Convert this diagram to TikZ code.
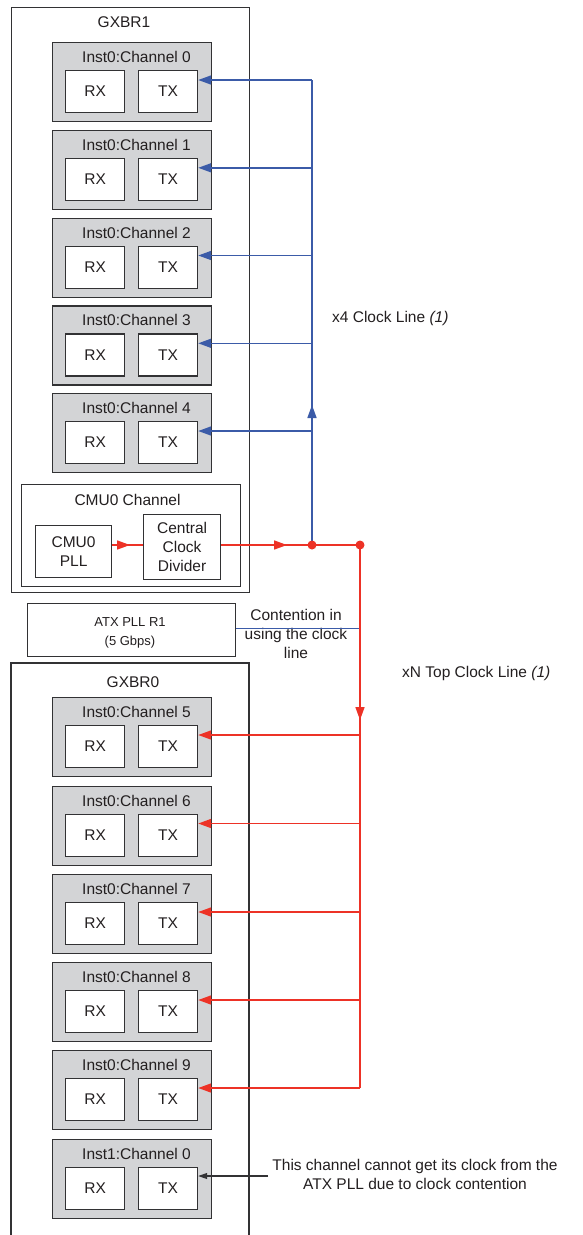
\documentclass[tikz,border=0pt]{standalone}
\usepackage{fontspec}
\setmainfont{Liberation Sans}
\usetikzlibrary{arrows.meta}
\definecolor{chgray}{RGB}{211,212,214}
\definecolor{ln}{RGB}{50,50,52}
\definecolor{txt}{RGB}{35,31,32}
\definecolor{bl}{RGB}{59,91,168}
\definecolor{rd}{RGB}{237,50,38}
\begin{document}
\begin{tikzpicture}[x=1pt,y=-1pt,font=\fontsize{15.5}{19}\selectfont,text=txt,
  outerbox/.style={draw=ln,line width=1.1pt,anchor=north west,inner sep=0pt},
  chan/.style={draw=ln,fill=chgray,line width=1.3pt,anchor=north west,inner sep=0pt,minimum width=159pt,minimum height=79pt},
  sub/.style={draw=ln,fill=white,line width=1.2pt,anchor=north west,inner sep=0pt,minimum width=59pt,minimum height=42pt},
  lbl/.style={inner sep=0pt},
  bline/.style={draw=bl,line width=1.6pt},
  rline/.style={draw=rd,line width=1.6pt},
  tipb/.style={-{Triangle[length=13pt,width=9pt]}},
  dot/.style={circle,fill=rd,inner sep=0pt,minimum size=9pt}]
\useasboundingbox[fill=white] (0,0) rectangle (582,1235);

% GXBR1
\node[outerbox,minimum width=238pt,minimum height=585pt] (gx1) at (11,7) {};
\node[lbl] (gx1l) at (124,22) {GXBR1};
\foreach \i/\t in {0/42,1/129.8,2/217.5,3/305.3,4/393}{
  \node[chan] (c\i) at (52,\t) {};
  \node[lbl] (cl\i) at (136.5,\t+15) {Inst0:Channel \i};
  \node[sub] (rx\i) at (65,\t+28) {RX};
  \node[sub] (tx\i) at (138,\t+28) {TX};
  \coordinate (bp\i) at (312,\t+38);
  \draw[bline,tipb] (bp\i) -- (tx\i.east |- bp\i);
}
% CMU0
\node[outerbox,minimum width=219pt,minimum height=102pt] (cmu) at (21,484) {};
\node[lbl] (cmul) at (127.5,500) {CMU0 Channel};
\node[draw=ln,line width=1.2pt,anchor=north west,minimum width=76pt,minimum height=52pt,inner sep=0pt,align=center] (pll) at (35,525) {CMU0\\PLL};
\node[draw=ln,line width=1.2pt,anchor=north west,minimum width=77pt,minimum height=65pt,inner sep=0pt,align=center] (div) at (143,514) {Central\\Clock\\Divider};

\coordinate (j1) at (312,545);
\coordinate (j2) at (360,545);
% blue bus
\draw[bline] (j1) -- (bp0);
\draw[bline,tipb] (j1) -- (312,405);
% red
\coordinate (pa) at (pll.east |- j1);
\draw[rline,tipb] (pa) -- (130,545);
\draw[rline] (128,545) -- (div.west |- j1);
\draw[rline,tipb] (div.east |- j1) -- (287,545);
\draw[rline] (285,545) -- (j2);

% ATX
\node[outerbox,minimum width=208pt,minimum height=53pt] (atx) at (27,603) {};
\node[lbl,font=\fontsize{13}{19}\selectfont,align=center] (atxl) at (130,632.5) {ATX PLL R1\\(5 Gbps)};
\node[lbl,align=center,font=\fontsize{15.5}{19}\selectfont] (cont) at (296,634) {Contention in\\using the clock\\line};
\draw[draw=bl,line width=1pt] (atx.east |- 0,628) -- (360,628);

% GXBR0
\draw[draw=ln,line width=1.1pt] (11,1235) -- (11,663) -- (249,663) -- (249,1235);
\node[lbl] (gx0l) at (133,682) {GXBR0};
\foreach \i/\t in {5/697,6/785.5,7/874,8/962,9/1050}{
  \node[chan] (c\i) at (52,\t) {};
  \node[lbl] (cl\i) at (136.5,\t+15) {Inst0:Channel \i};
  \node[sub] (rx\i) at (65,\t+28) {RX};
  \node[sub] (tx\i) at (138,\t+28) {TX};
  \coordinate (rp\i) at (360,\t+38);
  \draw[rline,tipb] (rp\i) -- (tx\i.east |- rp\i);
}
\node[chan] (c10) at (52,1139) {};
\node[lbl] (cl10) at (136.5,1154) {Inst1:Channel 0};
\node[sub] (rx10) at (65,1167) {RX};
\node[sub] (tx10) at (138,1167) {TX};
\draw[rline,tipb] (j2) -- (360,720);
\draw[rline] (360,718) -- (rp9);
\node[dot] (d1) at (j1) {};
\node[dot] (d2) at (j2) {};

\node[lbl,align=center] (note) at (415,1174) {This channel cannot get its clock from the\\ATX PLL due to clock contention};
\coordinate (np) at (268,1176);
\draw[draw=ln,line width=1.1pt,-{Triangle[length=9pt,width=6pt]}] (np) -- (tx10.east |- np);

\node[lbl,anchor=west] (x4) at (332,318) {x4 Clock Line \textit{(1)}};
\node[lbl,anchor=west] (xn) at (402,673) {xN Top Clock Line \textit{(1)}};
\end{tikzpicture}
\end{document}
